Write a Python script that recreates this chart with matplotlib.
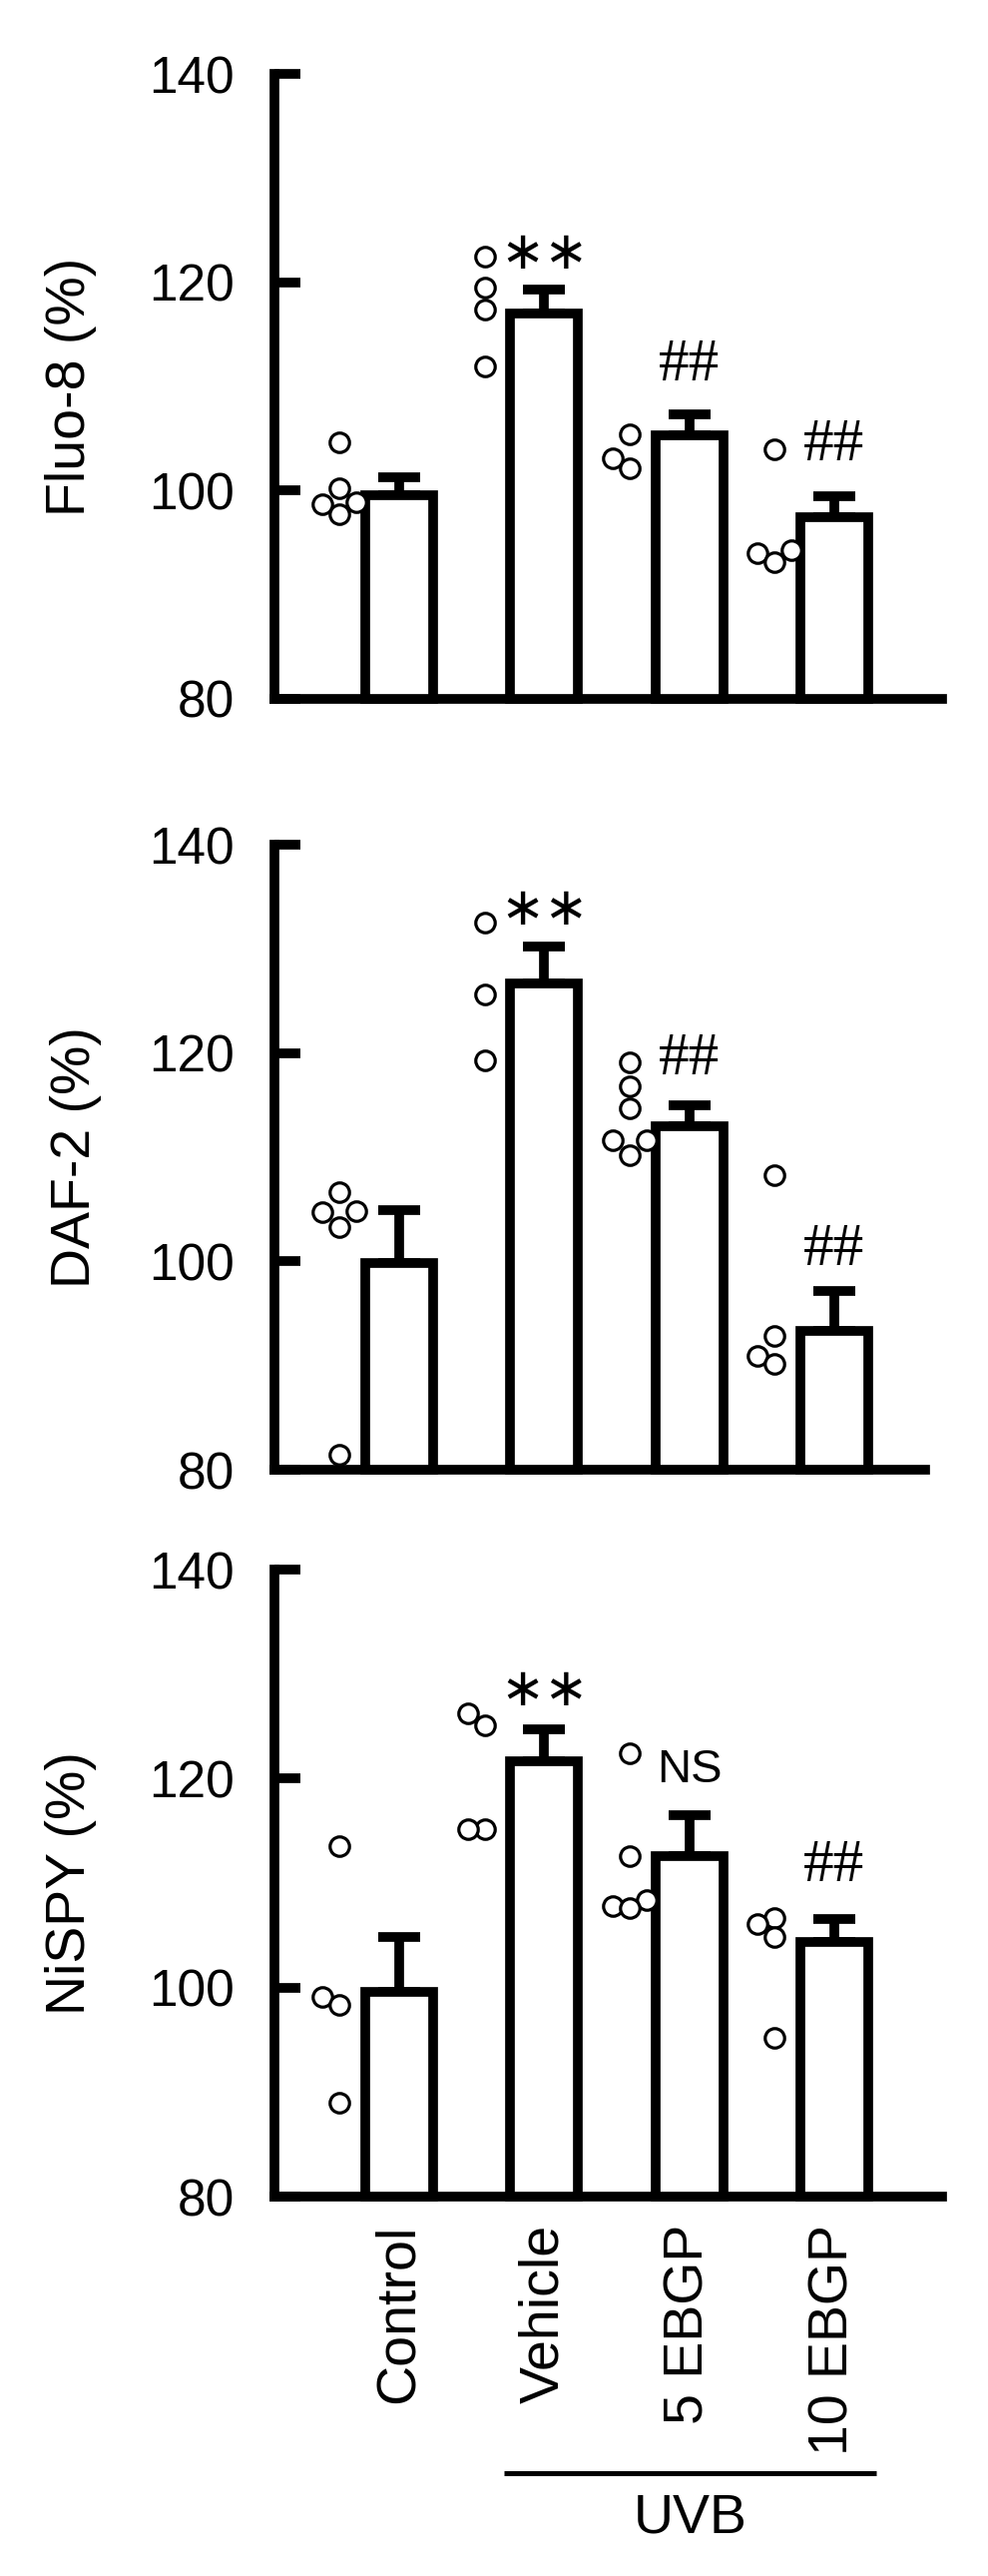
import numpy as np
import matplotlib
matplotlib.use("Agg")
import matplotlib.pyplot as plt
from matplotlib.transforms import blended_transform_factory

# ---------------- data ----------------
groups = ["Control", "Vehicle", "5 EBGP", "10 EBGP"]
ylabels = ["Fluo-8 (%)", "DAF-2 (%)", "NiSPY (%)"]

fluo_mean = [99.6, 117.0, 105.3, 97.4]
fluo_err = [1.7, 2.3, 2.0, 2.1]
fluo_pts = [[104.6, 100.2, 98.9, 98.7, 97.7],
            [122.5, 119.5, 117.4, 111.9],
            [105.4, 103.1, 102.1],
            [104.0, 94.3, 94.0, 93.1]]
fluo_sig = ["", "**", "##", "##"]
fluo_sig_y = [0, 122.7, 112.0, 104.3]

daf_mean = [99.8, 126.7, 113.0, 93.3]
daf_err = [5.1, 3.5, 2.0, 3.9]
daf_pts = [[106.6, 104.8, 104.7, 103.3, 81.4],
           [132.5, 125.6, 119.3],
           [119.1, 116.8, 114.7, 111.6, 111.6, 110.2],
           [108.3, 92.8, 90.9, 90.2]]
daf_sig = ["", "**", "##", "##"]
daf_sig_y = [0, 133.8, 119.4, 101.1]

nispy_mean = [99.6, 121.7, 112.6, 104.4]
nispy_err = [5.2, 3.0, 3.9, 2.2]
nispy_pts = [[113.5, 99.1, 98.3, 89.0],
             [126.2, 125.1, 115.2, 115.2],
             [122.4, 112.6, 108.4, 107.8, 107.6],
             [106.7, 106.1, 104.8, 95.2]]
nispy_sig = ["", "**", "NS", "##"]
nispy_sig_y = [0, 128.4, 120.8, 111.6]

panels = [
    (fluo_mean, fluo_err, fluo_pts, fluo_sig, fluo_sig_y),
    (daf_mean, daf_err, daf_pts, daf_sig, daf_sig_y),
    (nispy_mean, nispy_err, nispy_pts, nispy_sig, nispy_sig_y),
]

# ---------------- layout ----------------
W, H = 990, 2580
fig = plt.figure(figsize=(W / 100, H / 100), dpi=100)
plt.rcParams['font.family'] = ['Liberation Sans', 'DejaVu Sans']

px_per_x = 145.3          # pixel per category
x0_px = 400               # pixel of first bar centre
spine_px = 275
# (top y px of 140, bottom y px of 80, right end px)
boxes = [(74, 700, 944), (846, 1472, 927), (1572, 2200, 944)]

LW = 7
bar_w = 0.468
pt_off = -0.41

def beeswarm(vals, xpx, ypx, thr=16.0, step=17.0):
    order = np.argsort(vals, kind='stable')
    placed = []
    offs = np.zeros(len(vals))
    for i in order:
        y = vals[i] * ypx
        for k in [0, -1, 1, -2, 2, -3, 3]:
            x = k * step
            if all(np.hypot(x - qx, y - qy) >= thr for qx, qy in placed):
                placed.append((x, y))
                offs[i] = x / xpx
                break
    return offs

axes = []
for p, (mean, err, pts, sig, sigy) in enumerate(panels):
    ytop, ybot, xr = boxes[p]
    xl = (spine_px - x0_px) / px_per_x
    xrr = (xr - x0_px) / px_per_x
    ax = fig.add_axes([spine_px / W, 1 - ybot / H, (xr - spine_px) / W, (ybot - ytop) / H])
    axes.append(ax)
    ax.set_xlim(xl, xrr)
    ax.set_ylim(80, 140)
    ypx = (ybot - ytop) / 60.0
    x = np.arange(len(groups))

    ax.errorbar(x, mean, yerr=[np.zeros(len(mean)), err], fmt='none', ecolor='black',
                elinewidth=LW, capsize=15, capthick=LW, zorder=2)
    ax.bar(x, [m - 80 for m in mean], bottom=80, width=bar_w, color='white',
           edgecolor='black', linewidth=LW, zorder=3, clip_on=False)
    for i, vals in enumerate(pts):
        offs = beeswarm(np.array(vals), px_per_x, ypx)
        ax.plot(i + pt_off + offs, vals, 'o', ms=14, mfc='white', mec='black',
                mew=2.3, zorder=4, clip_on=False, linestyle='none')
    for i, s in enumerate(sig):
        if not s:
            continue
        if s == "##":
            ax.text(i, sigy[i], s, ha='center', va='center', fontsize=44,
                    family=['Liberation Serif', 'DejaVu Serif'])
        elif s == "NS":
            ax.text(i, sigy[i], s, ha='center', va='center', fontsize=34)
        else:
            ax.text(i, sigy[i], "∗∗", ha='center', va='center', fontsize=38,
                    family=['DejaVu Sans'])

    for side in ['top', 'right']:
        ax.spines[side].set_visible(False)
    for side in ['left', 'bottom']:
        ax.spines[side].set_linewidth(LW)
        ax.spines[side].set_capstyle('projecting')
    ax.set_yticks([80, 100, 120, 140])
    ax.tick_params(axis='y', direction='in', length=19, width=LW, labelsize=37, pad=29)
    ax.set_ylabel(ylabels[p], fontsize=40, va='center')
    ax.yaxis.set_label_coords(-0.305, 0.5)
    ax.set_xticks(x)
    if p == 2:
        ax.set_xticklabels(groups, rotation=90, fontsize=40)
        ax.tick_params(axis='x', length=0, pad=20)
    else:
        ax.tick_params(axis='x', length=0, labelbottom=False)
    ax.set_facecolor('none')

ax3 = axes[2]
tr = blended_transform_factory(ax3.transData, ax3.transAxes)
ax3.plot([0.723, 3.29], [-0.441, -0.441], color='black', lw=3.6, transform=tr,
         clip_on=False, solid_capstyle='butt')
ax3.text(2.01, -0.513, "UVB", transform=tr, ha='center', va='center', fontsize=40)

fig.savefig("out.png", dpi=100)
